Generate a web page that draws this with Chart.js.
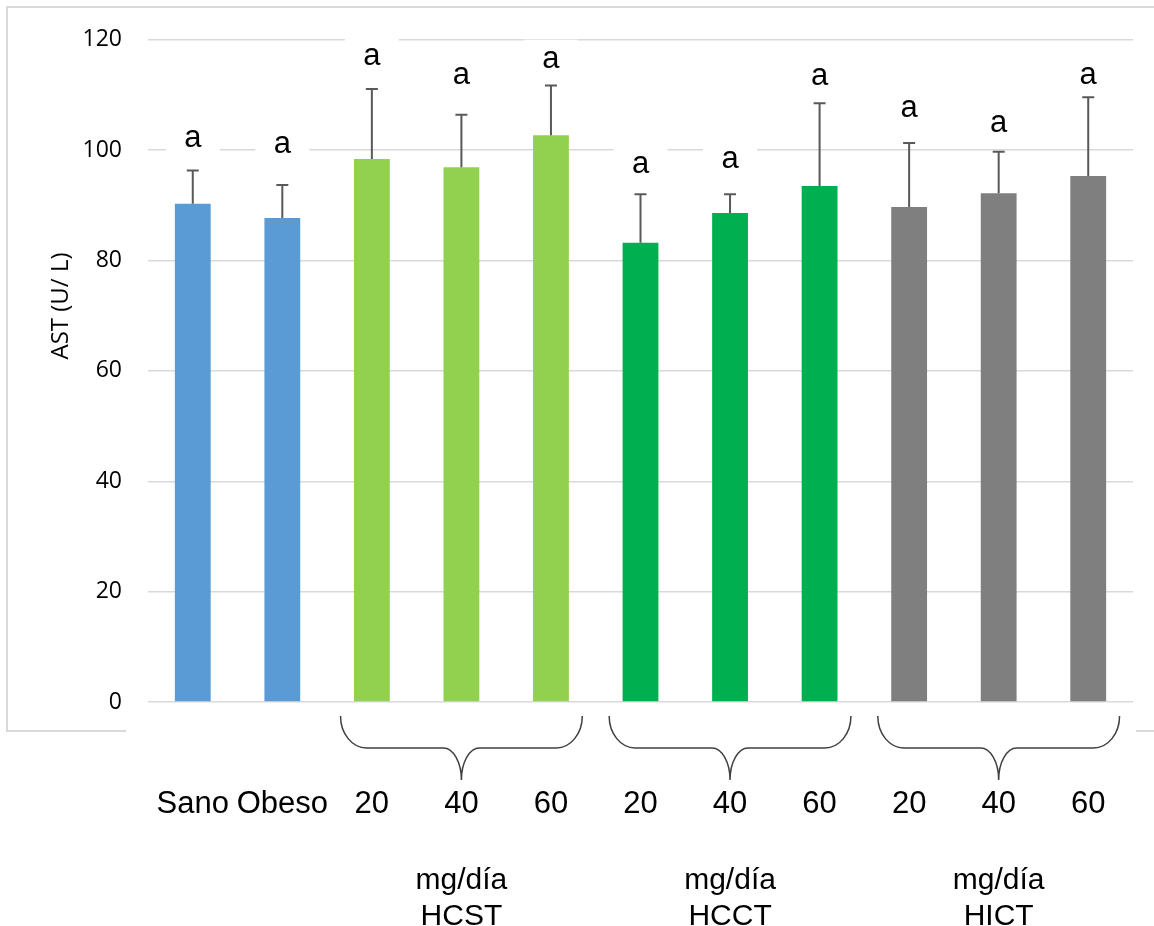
<!DOCTYPE html>
<html>
<head>
<meta charset="utf-8">
<script src="https://cdn.jsdelivr.net/npm/chart.js@4.4.1/dist/chart.umd.min.js"></script>
<style>
html, body { margin: 0; padding: 0; background: #fff; }
#wrap { width: 1154px; height: 926px; }
</style>
</head>
<body>
<div id="wrap"><canvas id="astChart"></canvas></div>
<script>
// AST por grupo (U/L): media + DE (solo barra superior)
var categories = ["Sano", "Obeso", "20", "40", "60", "20", "40", "60", "20", "40", "60"];
var astMean = [90.3, 87.7, 98.4, 96.9, 102.7, 83.2, 88.6, 93.5, 89.7, 92.2, 95.3];
var astError = [6.0, 6.0, 12.7, 9.5, 9.0, 8.8, 3.4, 15.0, 11.6, 7.5, 14.3];
var letters = ["a", "a", "a", "a", "a", "a", "a", "a", "a", "a", "a"];
var letterAt = [102.0, 100.9, 116.8, 113.5, 116.4, 97.3, 98.2, 113.2, 107.4, 104.7, 113.5];
var barColors = ["#5b9bd5", "#5b9bd5", "#92d050", "#92d050", "#92d050",
                 "#00b050", "#00b050", "#00b050", "#7f7f7f", "#7f7f7f", "#7f7f7f"];
var groupNames = ["HCST", "HCCT", "HICT"];
var groupFirst = [2, 5, 8];
var groupLast = [4, 7, 10];
var groupUnit = "mg/día";
var yTicks = [0, 20, 40, 60, 80, 100, 120];
var yTitle = "AST (U/ L)";

var arialFont = "'Liberation Sans', Arial, sans-serif";
var tickFont = "'Open Sans', sans-serif";

// marco exterior gris
var framePlugin = {
  id: 'frame',
  beforeDraw: function (chart) {
    var ctx = chart.ctx;
    ctx.save();
    ctx.strokeStyle = '#d9d9d9';
    ctx.lineWidth = 2;
    ctx.beginPath();
    ctx.moveTo(chart.width, 7);
    ctx.lineTo(7, 7);
    ctx.lineTo(7, 731);
    ctx.lineTo(126, 731);
    ctx.moveTo(1136, 731);
    ctx.lineTo(chart.width, 731);
    ctx.stroke();
    ctx.restore();
  }
};

// letras de significancia con fondo blanco
var lettersPlugin = {
  id: 'letters',
  beforeDatasetsDraw: function (chart) {
    var ctx = chart.ctx;
    var y = chart.scales.y;
    var meta = chart.getDatasetMeta(0);
    ctx.save();
    ctx.font = '31px ' + arialFont;
    ctx.textAlign = 'center';
    ctx.textBaseline = 'alphabetic';
    for (var i = 0; i < letters.length; i++) {
      var px = meta.data[i].x;
      var py = y.getPixelForValue(letterAt[i]);
      ctx.fillStyle = '#fff';
      ctx.fillRect(px - 27, py - 20, 54, 40);
      ctx.fillStyle = '#000';
      ctx.fillText(letters[i], px, py + 8);
    }
    ctx.restore();
  }
};

// barras de error (solo hacia arriba)
var errorPlugin = {
  id: 'errorBars',
  afterDatasetsDraw: function (chart) {
    var ctx = chart.ctx;
    var y = chart.scales.y;
    var meta = chart.getDatasetMeta(0);
    ctx.save();
    ctx.strokeStyle = '#595959';
    ctx.lineWidth = 2;
    for (var i = 0; i < astMean.length; i++) {
      var bar = meta.data[i];
      var top = y.getPixelForValue(astMean[i] + astError[i]);
      ctx.beginPath();
      ctx.moveTo(bar.x, bar.y);
      ctx.lineTo(bar.x, top);
      ctx.moveTo(bar.x - 6, top);
      ctx.lineTo(bar.x + 6, top);
      ctx.stroke();
    }
    ctx.restore();
  }
};

// llaves bajo cada grupo, dosis y título del eje y
var groupsPlugin = {
  id: 'groups',
  afterDraw: function (chart) {
    var ctx = chart.ctx;
    var x = chart.scales.x;
    var bottom = chart.chartArea.bottom;
    var cw = x.getPixelForValue(1) - x.getPixelForValue(0);
    var top = bottom + 14, flat = bottom + 46, tip = bottom + 78;
    var k = 0.552, rx = 26, tx = 18;
    ctx.save();
    ctx.strokeStyle = '#404040';
    ctx.lineWidth = 1.5;
    for (var g = 0; g < groupNames.length; g++) {
      var cx = (x.getPixelForValue(groupFirst[g]) + x.getPixelForValue(groupLast[g])) / 2;
      var half = 1.35 * cw;
      var l = cx - half, r = cx + half;
      ctx.beginPath();
      ctx.moveTo(l, top);
      ctx.bezierCurveTo(l, top + k * (flat - top), l + rx - k * rx, flat, l + rx, flat);
      ctx.lineTo(cx - tx, flat);
      ctx.bezierCurveTo(cx - tx + k * tx, flat, cx, tip - k * (tip - flat), cx, tip);
      ctx.bezierCurveTo(cx, tip - k * (tip - flat), cx + tx - k * tx, flat, cx + tx, flat);
      ctx.lineTo(r - rx, flat);
      ctx.bezierCurveTo(r - rx + k * rx, flat, r, top + k * (flat - top), r, top);
      ctx.stroke();

      ctx.fillStyle = '#000';
      ctx.font = '30px ' + arialFont;
      ctx.textAlign = 'center';
      ctx.textBaseline = 'alphabetic';
      ctx.fillText(groupUnit, cx, bottom + 187);
      ctx.fillText(groupNames[g], cx, bottom + 223);
    }

    ctx.font = '24px ' + tickFont;
    ctx.fillStyle = '#000';
    ctx.translate(61, 306);
    ctx.rotate(-Math.PI / 2);
    ctx.textAlign = 'center';
    ctx.textBaseline = 'middle';
    ctx.fillText(yTitle, 0, 0);
    ctx.restore();
  }
};

var ctx = document.getElementById('astChart').getContext('2d');
var astChart = new Chart(ctx, {
  type: 'bar',
  data: {
    labels: categories,
    datasets: [{
      label: 'AST',
      data: astMean,
      backgroundColor: barColors,
      borderWidth: 0,
      barPercentage: 0.4,
      categoryPercentage: 1.0
    }]
  },
  options: {
    responsive: true,
    maintainAspectRatio: false,
    animation: false,
    layout: { padding: { top: 37, right: 21, left: 0, bottom: 0 } },
    plugins: {
      legend: { display: false },
      tooltip: { enabled: false }
    },
    scales: {
      x: {
        grid: { display: false, drawTicks: false },
        border: { display: false },
        ticks: {
          autoSkip: false,
          maxRotation: 0,
          padding: 84,
          color: '#000',
          font: { family: arialFont, size: 31 }
        },
        afterFit: function (scale) {
          scale.height = 224;
          scale.paddingLeft = 0;
          scale.paddingRight = 0;
        }
      },
      y: {
        min: yTicks[0],
        max: yTicks[yTicks.length - 1],
        grid: { color: '#d9d9d9', lineWidth: 1.5, drawTicks: false },
        border: { display: false },
        ticks: {
          stepSize: yTicks[1] - yTicks[0],
          padding: 26,
          color: '#000',
          font: { family: tickFont, size: 23 }
        },
        afterFit: function (scale) { scale.width = 148; }
      }
    }
  },
  plugins: [framePlugin, lettersPlugin, errorPlugin, groupsPlugin]
});
</script>
</body>
</html>
